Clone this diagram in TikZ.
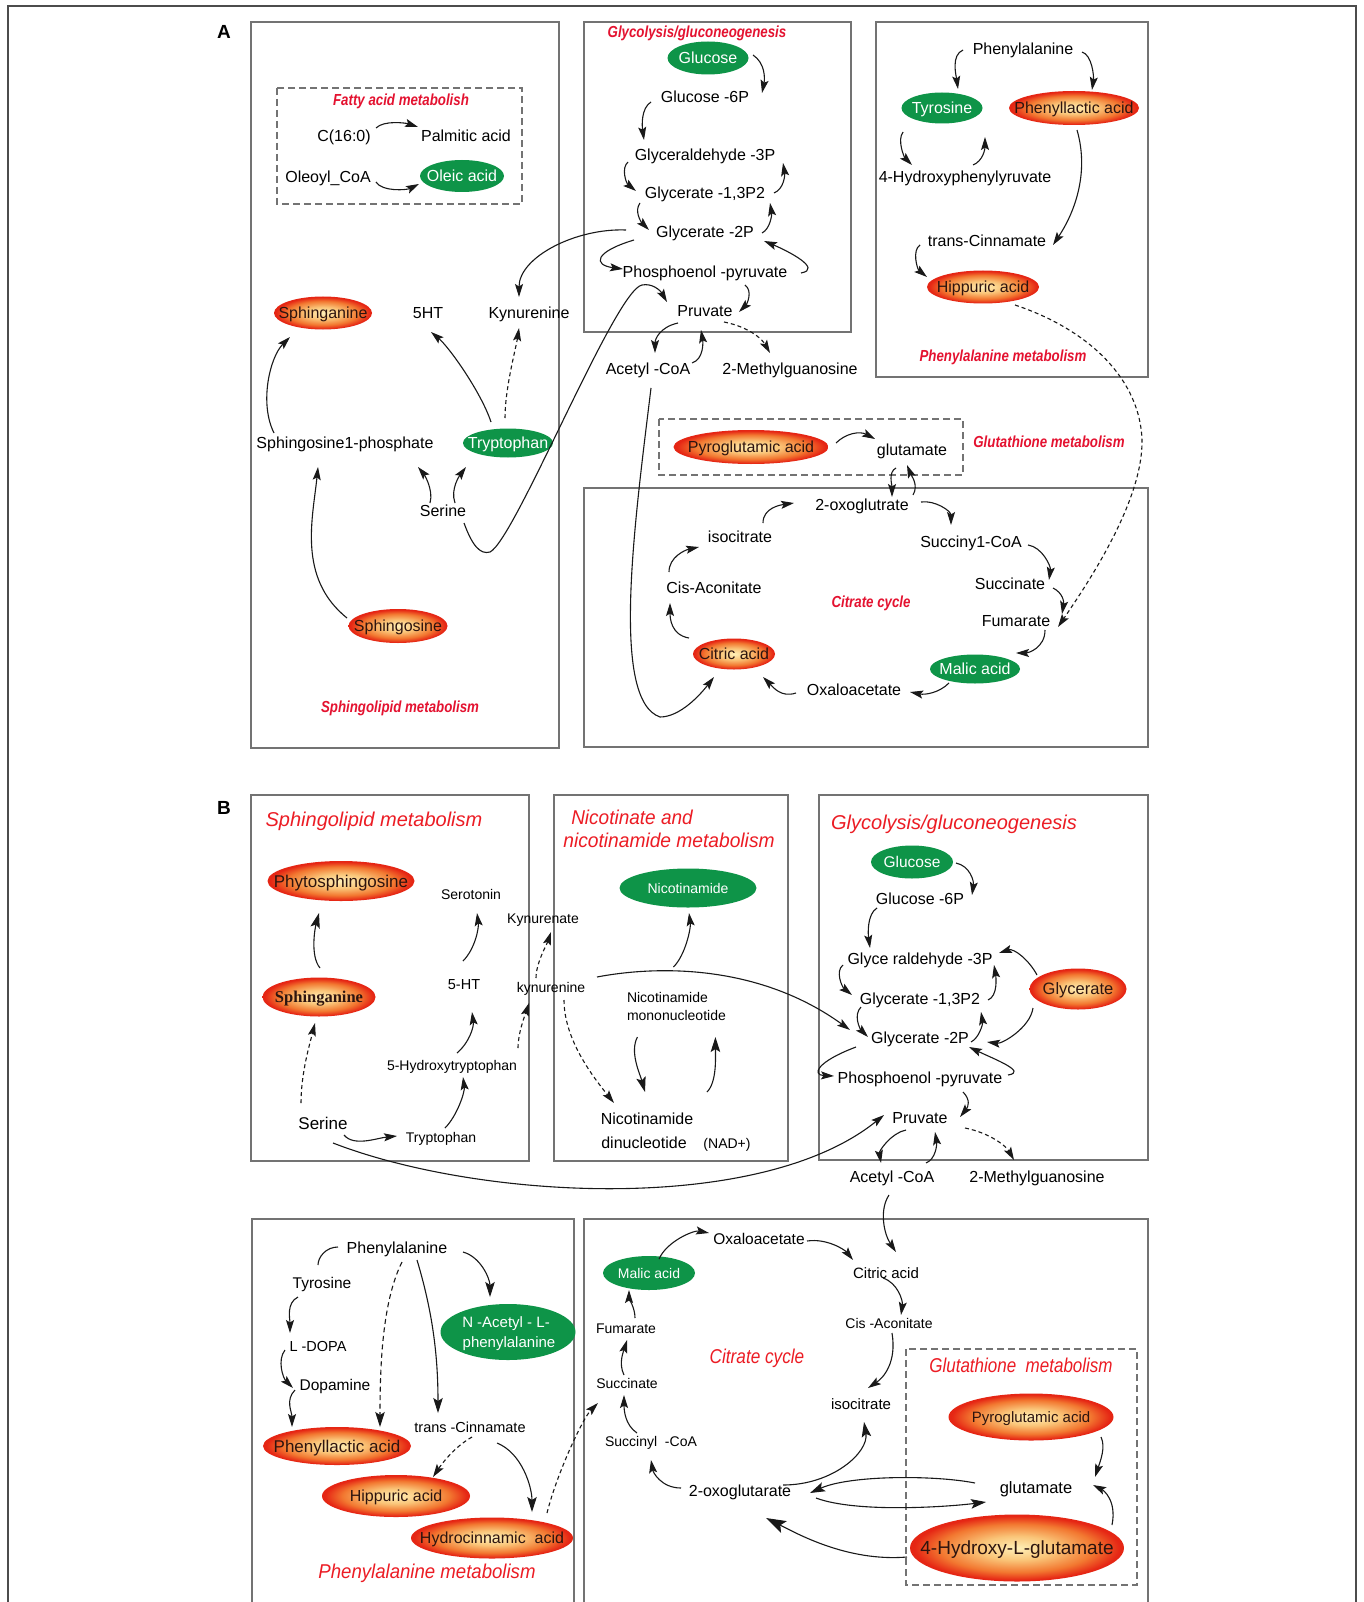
\documentclass[tikz,border=0pt]{standalone}
\usepackage{fontspec}
\setmainfont{Liberation Sans}
\newfontfamily\lserif{Liberation Serif}
\usepackage{graphicx}
\usetikzlibrary{shapes.geometric,arrows.meta,calc}
\pgfdeclareradialshading{redball}{\pgfpoint{0bp}{0bp}}{rgb(0bp)=(1,0.94,0.72);rgb(9bp)=(0.98,0.77,0.47);rgb(18bp)=(0.95,0.47,0.19);rgb(24bp)=(0.90,0.15,0.08);rgb(50bp)=(0.90,0.15,0.08)}
\definecolor{mgreen}{RGB}{14,148,72}
\definecolor{tred}{RGB}{228,18,48}
\definecolor{bred}{RGB}{236,28,36}
\definecolor{boxgray}{RGB}{115,115,115}
\definecolor{eltext}{RGB}{45,20,15}
\newcommand\sx[2]{\scalebox{#1}[1]{#2}}
\newcommand\cn[7]{\draw[#1] ($(#2)+(#3)$) .. controls +(#4) and +(#5) .. ($(#6)+(#7)$);}
\tikzset{
 every node/.style={inner sep=0pt,outer sep=0pt},
 fs/.style={font=\fontsize{#1}{#1}\selectfont,text height=0.72*#1,text depth=0pt},
 tA/.style={font=\fontsize{16}{16}\selectfont\bfseries\itshape,text=tred,text height=11.5pt,text depth=0pt},
 tB/.style={font=\fontsize{20}{20}\selectfont\itshape,text=bred,text height=14.4pt,text depth=0pt},
 box/.style={draw=boxgray,line width=1.1pt},
 dbox/.style={draw=boxgray,line width=1.1pt,dash pattern=on 7pt off 4pt},
 con/.style={line width=1.1pt,draw=black!90},
 arr/.style={con,-{Stealth[length=13pt,width=8pt,inset=2.5pt]}},
 darr/.style={arr,dash pattern=on 4pt off 3pt},
 barr/.style={con,-{Stealth[length=15pt,width=9.5pt,inset=3pt]}},
 barrd/.style={barr,dash pattern=on 5pt off 3.5pt},
 hugearr/.style={con,-{Stealth[length=20pt,width=13pt,inset=4pt]}},
 redel/.style n args={2}{ellipse,shade,shading=redball,minimum width=#1,minimum height=#2},
 grel/.style n args={2}{ellipse,fill=mgreen,minimum width=#1,minimum height=#2},
 wt/.style={text=white},
 et/.style={text=eltext},
}
\begin{document}
\begin{tikzpicture}[x=1pt,y=-1pt]
\useasboundingbox (0,0) rectangle (1363,1602);
\fill[white] (0,0) rectangle (1363,1602);
% outer frame
\draw[line width=1.4pt,draw=black!70] (8,1602) -- (8,6) -- (1356,6) -- (1356,1602);
\node[font=\fontsize{19}{19}\selectfont\bfseries] (labA) at (224,32) {A};
\node[font=\fontsize{19}{19}\selectfont\bfseries] (labB) at (224,808) {B};
% boxes A
\draw[box] (251,22) rectangle (559,748);
\draw[box] (584,22) rectangle (851,332);
\draw[box] (876,22) rectangle (1148,377);
\draw[box] (584,488) rectangle (1148,747);
\draw[dbox] (277,88) rectangle (522,204);
\draw[dbox] (659,419) rectangle (963,475);
% boxes B
\draw[box] (251,795) rectangle (529,1161);
\draw[box] (554,795) rectangle (788,1161);
\draw[box] (819,795) rectangle (1148,1160);
\draw[box] (252,1602) -- (252,1219) -- (574,1219) -- (574,1602);
\draw[box] (584,1602) -- (584,1219) -- (1148,1219) -- (1148,1602);
\draw[dbox] (906,1349) rectangle (1137,1585);

% ===== PANEL A =====
% fatty acid
\node[tA] (titFat) at (401,100) {\sx{0.83}{Fatty acid metabolish}};
\node[fs=16] (c16) at (344,136) {C(16:0)};
\node[fs=16] (pal) at (466,136) {Palmitic acid};
\node[fs=16] (ole) at (328,177) {Oleoyl\_CoA};
\node[grel={84pt}{32pt}] (oleic) at (462,176) {};
\node[fs=16,wt] (oleict) at (oleic) {Oleic acid};
% glycolysis A
\node[tA] (titGlyA) at (697,32) {\sx{0.83}{Glycolysis/gluconeogenesis}};
\node[grel={81pt}{33pt}] (glcA) at (708,58) {};
\node[fs=16,wt] (glcAt) at (glcA) {Glucose};
\node[fs=16] (g6pA) at (705,97) {Glucose -6P};
\node[fs=16] (gapA) at (705,155) {Glyceraldehyde -3P};
\node[fs=16] (bpgA) at (705,193) {Glycerate -1,3P2};
\node[fs=16] (pgA) at (705,232) {Glycerate -2P};
\node[fs=16] (pepA) at (705,272) {Phosphoenol -pyruvate};
\node[fs=16] (pyrA) at (705,311) {Pruvate};
\node[fs=16] (acoA) at (648,369) {Acetyl -CoA};
\node[fs=16] (mgA) at (790,369) {2-Methylguanosine};
% phenylalanine A
\node[fs=16] (pheA) at (1023,49) {Phenylalanine};
\node[grel={81pt}{31pt}] (tyrA) at (942,108) {};
\node[fs=16,wt] (tyrAt) at (tyrA) {Tyrosine};
\node[redel={130pt}{34pt}] (plaA) at (1074,108) {};
\node[fs=16,et] (plaAt) at (plaA) {Phenyllactic acid};
\node[fs=16] (hppA) at (965,177) {4-Hydroxyphenylyruvate};
\node[fs=16] (cinA) at (987,241) {trans-Cinnamate};
\node[redel={112pt}{33pt}] (hipA) at (983,287) {};
\node[fs=16,et] (hipAt) at (hipA) {Hippuric acid};
\node[tA] (titPheA) at (1003,356) {\sx{0.83}{Phenylalanine metabolism}};
% sphingolipid A
\node[redel={98pt}{33pt}] (sphA) at (323,313) {};
\node[fs=16,et] (sphAt) at (sphA) {Sphinganine};
\node[fs=16] (htA) at (428,313) {5HT};
\node[fs=16] (kynA) at (529,313) {Kynurenine};
\node[fs=16] (s1pA) at (345,443) {Sphingosine1-phosphate};
\node[grel={90pt}{29pt}] (trpA) at (508,443) {};
\node[fs=16,wt] (trpAt) at (trpA) {Tryptophan};
\node[fs=16] (serA) at (443,511) {Serine};
\node[redel={99pt}{34pt}] (sphoA) at (398,626) {};
\node[fs=16,et] (sphoAt) at (sphoA) {Sphingosine};
\node[tA] (titSphA) at (400,707) {\sx{0.83}{Sphingolipid metabolism}};
% glutathione / citrate A
\node[redel={155pt}{34pt}] (pyroA) at (751,447) {};
\node[fs=16,et] (pyroAt) at (pyroA) {Pyroglutamic acid};
\node[fs=16] (gluA) at (912,450) {glutamate};
\node[tA] (titGluA) at (1049,442) {\sx{0.83}{Glutathione metabolism}};
\node[fs=16] (oxoA) at (862,505) {2-oxoglutrate};
\node[fs=16] (icitA) at (740,537) {isocitrate};
\node[fs=16] (cisA) at (714,588) {Cis-Aconitate};
\node[tA] (titTcaA) at (871,602) {\sx{0.83}{Citrate cycle}};
\node[fs=16] (sucoaA) at (971,542) {Succiny1-CoA};
\node[fs=16] (succA) at (1010,584) {Succinate};
\node[fs=16] (fumA) at (1016,621) {Fumarate};
\node[grel={90pt}{29pt}] (malA) at (975,669) {};
\node[fs=16,wt] (malAt) at (malA) {Malic acid};
\node[fs=16] (oaaA) at (854,690) {Oxaloacetate};
\node[redel={82pt}{31pt}] (citA) at (734,654) {};
\node[fs=16,et] (citAt) at (citA) {Citric acid};

% ===== PANEL B =====
% sphingolipid B
\node[tB] (titSphB) at (374,819) {Sphingolipid metabolism};
\node[redel={147pt}{40pt}] (phytoB) at (341,881) {};
\node[fs=17,et] (phytoBt) at (phytoB) {Phytosphingosine};
\node[redel={113pt}{39pt}] (sphB) at (319,997) {};
\node[font=\fontsize{16.5}{16.5}\selectfont\lserif\bfseries,et,text height=11pt,text depth=0pt] (sphBt) at (sphB) {Sphinganine};
\node[fs=17] (serB) at (323,1123) {Serine};
\node[fs=14] (trpB) at (441,1137) {Tryptophan};
\node[fs=14] (hydroxyB) at (452,1065) {5-Hydroxytryptophan};
\node[fs=14.5] (htB) at (464,984) {5-HT};
\node[fs=14] (seroB) at (471,894) {Serotonin};
\node[fs=14] (kynB) at (551,987) {kynurenine};
\node[fs=14] (kynaB) at (543,918) {Kynurenate};
% nicotinate
\node[tB] (titNicB1) at (632,817) {\sx{0.95}{Nicotinate and}};
\node[tB] (titNicB2) at (669,840) {\sx{0.96}{nicotinamide metabolism}};
\node[grel={137pt}{39pt}] (nicB) at (688,888) {};
\node[fs=14,wt] (nicBt) at (nicB) {Nicotinamide};
\node[fs=14,anchor=west] (nmnB1) at (627,997) {Nicotinamide};
\node[fs=14,anchor=west] (nmnB2) at (627,1015) {mononucleotide};
\node[fs=16] (nadB1) at (647,1119) {Nicotinamide};
\node[fs=16] (nadB2) at (644,1143) {dinucleotide};
\node[fs=14] (nadp) at (727,1143) {(NAD+)};
% glycolysis B
\node[tB] (titGlyB) at (954,822) {Glycolysis/gluconeogenesis};
\node[grel={82pt}{33pt}] (glcB) at (912,862) {};
\node[fs=15.5,wt] (glcBt) at (glcB) {Glucose};
\node[fs=16] (g6pB) at (920,899) {Glucose -6P};
\node[fs=16] (gapB) at (920,959) {Glyce raldehyde -3P};
\node[fs=16] (bpgB) at (920,999) {Glycerate -1,3P2};
\node[fs=16] (pgB) at (920,1038) {Glycerate -2P};
\node[fs=16] (pepB) at (920,1078) {Phosphoenol -pyruvate};
\node[fs=16] (pyrB) at (920,1118) {Pruvate};
\node[redel={97pt}{41pt}] (glyB) at (1078,989) {};
\node[fs=16.5,et] (glyBt) at (glyB) {Glycerate};
\node[fs=16] (acoB) at (892,1177) {Acetyl -CoA};
\node[fs=16] (mgB) at (1037,1177) {2-Methylguanosine};
% phenylalanine B
\node[fs=16] (pheB) at (397,1248) {Phenylalanine};
\node[fs=15.5] (tyrB2) at (322,1283) {Tyrosine};
\node[fs=14.5] (dopaB) at (318,1346) {L -DOPA};
\node[fs=15.5] (dopB) at (335,1385) {Dopamine};
\node[redel={148pt}{38pt}] (plaB) at (337,1446) {};
\node[fs=17,et] (plaBt) at (plaB) {Phenyllactic acid};
\node[grel={135pt}{56pt}] (naB) at (508,1332) {};
\node[fs=15,wt] (naBt1) at (506,1322) {N -Acetyl - L-};
\node[fs=15,wt] (naBt2) at (509,1342) {phenylalanine};
\node[fs=14.5] (cinB) at (470,1427) {trans -Cinnamate};
\node[redel={148pt}{42pt}] (hipB) at (396,1496) {};
\node[fs=16,et] (hipBt) at (hipB) {Hippuric acid};
\node[redel={162pt}{41pt}] (hcaB) at (492,1538) {};
\node[fs=16,et] (hcaBt) at (hcaB) {Hydrocinnamic\ \ acid};
\node[tB] (titPheB) at (427,1571) {\sx{0.93}{Phenylalanine metabolism}};
% citrate B
\node[fs=15.5] (oaaB) at (759,1239) {Oxaloacetate};
\node[grel={92pt}{34pt}] (malB) at (649,1273) {};
\node[fs=14,wt] (malBt) at (malB) {Malic acid};
\node[fs=15] (citB) at (886,1273) {Citric acid};
\node[fs=14] (cisB) at (889,1323) {Cis -Aconitate};
\node[fs=15] (icitB) at (861,1404) {isocitrate};
\node[tB] (titTcaB) at (757,1356) {\sx{0.86}{Citrate cycle}};
\node[tB] (titGluB) at (1021,1365) {\sx{0.85}{Glutathione\ \ metabolism}};
\node[fs=14] (fumB) at (626,1328) {Fumarate};
\node[fs=14] (succB) at (627,1383) {Succinate};
\node[fs=14] (sucoaB) at (651,1441) {Succinyl\ \ -CoA};
\node[fs=16] (oxoB) at (740,1491) {2-oxoglutarate};
\node[redel={165pt}{47pt}] (pyroB) at (1031,1417) {};
\node[fs=15,et] (pyroBt) at (pyroB) {Pyroglutamic acid};
\node[fs=16.5] (gluB) at (1036,1488) {glutamate};
\node[redel={214pt}{67pt}] (hglB) at (1017,1548) {};
\node[fs=19,et] (hglBt) at (hglB) {4-Hydroxy-L-glutamate};

% ===== CONNECTORS A =====
\cn{arr}{c16}{32,-8}{8,-8}{-12,-4}{pal}{-48,-9}
\cn{arr}{ole}{48,5}{6,10}{-12,6}{oleic}{-43,8}
\cn{arr}{glcA}{45,-3}{12,8}{3,-15}{g6pA}{57,-4}
\cn{arr}{g6pA}{-54,5}{-10,6}{-2,-14}{gapA}{-61,-15}
\cn{arr}{gapA}{-77,7}{-7,6}{-10,-8}{bpgA}{-69,-2}
\cn{arr}{bpgA}{-65,10}{-6,8}{-8,-8}{pgA}{-56,-2}
\cn{arr}{bpgA}{69,0}{10,-4}{2,12}{gapA}{78,8}
\cn{arr}{pgA}{57,1}{8,-4}{2,12}{bpgA}{65,10}
\cn{arr}{pgA}{-71,8}{-40,12}{-30,-4}{pepA}{-82,-3}
\cn{arr}{pepA}{96,1}{22,-4}{24,10}{pgA}{59,9}
\cn{arr}{pepA}{40,13}{8,6}{8,-8}{pyrA}{34,1}
\cn{arr}{pyrA}{-27,12}{-18,4}{0,-14}{acoA}{7,-16}
\cn{arr}{acoA}{44,-6}{12,-4}{2,12}{pyrA}{-4,19}
\cn{darr}{pyrA}{19,11}{25,5}{-8,-14}{mgA}{-20,-16}
\cn{arr}{pgA}{-79,-2}{-50,-2}{0,-40}{kynA}{-10,-16}
\draw[arr] ($(serA)+(21,12)$) .. controls (472,545) and (480,555) .. (490,552) .. controls (515,540) and (615,290) .. (642,285) .. controls (652,283) and (660,290) .. ($(pyrA)+(-38,-9)$);
\draw[arr] ($(acoA)+(3,19)$) .. controls (635,520) and (610,700) .. (660,717) .. controls (680,717) and (700,695) .. ($(citA)+(-20,23)$);
\cn{arr}{pheA}{-60,1}{-12,5}{-2,-14}{tyrA}{16,-19}
\cn{arr}{pheA}{59,3}{10,3}{2,-14}{plaA}{18,-18}
\cn{arr}{tyrA}{-39,24}{-6,8}{-8,-8}{hppA}{-53,-12}
\cn{arr}{hppA}{8,-12}{10,-4}{0,12}{tyrA}{43,29}
\cn{arr}{plaA}{3,22}{13,45}{20,-30}{cinA}{66,4}
\cn{arr}{cinA}{-67,4}{-8,5}{-10,-8}{hipA}{-56,-10}
\draw[darr] ($(hipA)+(32,18)$) .. controls (1090,330) and (1140,380) .. (1142,440) .. controls (1143,500) and (1090,580) .. ($(fumA)+(42,6)$);
\cn{arr}{pyroA}{85,-4}{10,-10}{-15,-8}{gluA}{-37,-11}
\cn{arr}{gluA}{-16,18}{-8,4}{0,-12}{oxoA}{30,-8}
\cn{arr}{oxoA}{51,-10}{6,-10}{4,10}{gluA}{-5,15}
\cn{arr}{icitA}{23,-14}{0,-15}{-14,2}{oxoA}{-68,-2}
\cn{arr}{cisA}{-45,-16}{0,-15}{-14,3}{icitA}{-41,10}
\cn{arr}{citA}{-45,-16}{-18,-3}{0,15}{cisA}{-44,15}
\cn{arr}{oaaA}{-58,3}{-15,5}{10,10}{citA}{29,23}
\cn{arr}{malA}{-26,14}{-10,10}{15,3}{oaaA}{56,2}
\cn{arr}{fumA}{29,9}{0,18}{12,0}{malA}{41,-16}
\cn{arr}{succA}{43,4}{10,5}{2,-12}{fumA}{46,-7}
\cn{arr}{sucoaA}{57,3}{14,2}{2,-14}{succA}{39,-4}
\cn{arr}{oxoA}{59,-3}{14,-2}{0,-14}{sucoaA}{-20,-17}
\cn{arr}{s1pA}{-71,-10}{-15,-30}{-20,20}{sphA}{-33,24}
\cn{arr}{trpA}{-17,-21}{-10,-30}{18,15}{htA}{3,19}
\cn{darr}{trpA}{-3,-25}{0,-30}{-3,20}{kynA}{-10,15}
\cn{arr}{serA}{-13,-8}{4,-14}{5,6}{s1pA}{73,24}
\cn{arr}{serA}{12,-8}{-5,-14}{-6,8}{trpA}{-42,24}
\cn{arr}{sphoA}{-51,-8}{-50,-40}{-5,50}{s1pA}{-27,24}

% ===== CONNECTORS B =====
\cn{barr}{sphB}{1,-29}{-10,-12}{-4,15}{phytoB}{-22,32}
\cn{darr}{serB}{-22,-20}{0,-30}{-5,20}{sphB}{-4,26}
\cn{arr}{serB}{21,12}{10,12}{-20,2}{trpB}{-44,-1}
\cn{arr}{trpB}{4,-9}{12,-12}{2,15}{hydroxyB}{11,12}
\cn{arr}{hydroxyB}{5,-12}{12,-10}{2,15}{htB}{8,28}
\cn{arr}{htB}{-1,-23}{12,-12}{2,15}{seroB}{6,19}
\cn{darr}{hydroxyB}{66,-17}{0,-15}{-4,12}{kynB}{-22,16}
\cn{darr}{kynB}{-15,-9}{0,-15}{-4,12}{kynaB}{8,14}
\cn{darr}{kynB}{13,13}{0,40}{-20,-25}{nadB1}{-33,-16}
\draw[arr] ($(kynB)+(46,-10)$) .. controls (660,965) and (760,965) .. ($(pgB)+(-70,-8)$);
\cn{barr}{nmnB2}{-39,22}{-8,15}{-5,-18}{nadB1}{-2,-27}
\cn{barr}{nadB1}{60,-27}{10,-10}{0,20}{nmnB2}{39,22}
\cn{arr}{nmnB1}{6,-30}{12,-12}{2,15}{nicB}{1,25}
\cn{arr}{glcB}{44,1}{14,3}{2,-14}{g6pB}{52,-4}
\cn{arr}{g6pB}{-43,9}{-10,6}{-2,-14}{gapB}{-50,-11}
\cn{arr}{gapB}{-77,6}{-8,6}{-10,-8}{bpgB}{-68,-4}
\cn{arr}{bpgB}{-59,8}{-8,8}{-8,-8}{pgB}{-52,-1}
\cn{arr}{bpgB}{68,1}{10,-4}{2,12}{gapB}{74,6}
\cn{arr}{pgB}{51,4}{8,-4}{2,12}{bpgB}{61,13}
\cn{arr}{glyB}{-41,-14}{-8,-15}{15,-5}{gapB}{79,-6}
\cn{arr}{glyB}{-45,19}{-3,20}{15,2}{pgB}{67,4}
\cn{arr}{pgB}{-64,9}{-40,15}{-22,-1}{pepB}{-86,-2}
\cn{arr}{pepB}{88,-3}{20,-3}{25,12}{pgB}{49,9}
\cn{arr}{pepB}{43,14}{8,8}{8,-10}{pyrB}{40,-1}
\draw[arr] ($(serB)+(10,20)$) .. controls (480,1200) and (760,1215) .. ($(pyrB)+(-36,-3)$);
\cn{arr}{pyrB}{-14,12}{-15,3}{-2,-12}{acoB}{-11,-14}
\cn{arr}{acoB}{34,-14}{10,-4}{2,12}{pyrB}{15,14}
\cn{darr}{pyrB}{45,10}{25,5}{-8,-14}{mgB}{-23,-17}
\cn{arr}{acoB}{-3,18}{-10,15}{-12,-18}{citB}{10,-21}
\cn{arr}{malB}{10,-14}{8,-18}{-15,-3}{oaaB}{-50,-6}
\cn{arr}{oaaB}{48,2}{20,-3}{-8,-10}{citB}{-33,-13}
\cn{arr}{citB}{-3,5}{15,5}{2,-14}{cisB}{12,-8}
\cn{arr}{cisB}{3,10}{5,30}{15,-10}{icitB}{7,-16}
\cn{barr}{oxoB}{43,-6}{50,0}{5,30}{icitB}{3,18}
\cn{arr}{oxoB}{-59,-3}{-20,0}{2,12}{sucoaB}{0,19}
\cn{arr}{sucoaB}{-14,-8}{-12,-8}{0,15}{succB}{-3,12}
\cn{arr}{succB}{-3,-8}{-6,-12}{-3,10}{fumB}{1,12}
\cn{arr}{fumB}{9,-10}{0,-10}{0,8}{malB}{-20,17}
\cn{arr}{pyroB}{70,20}{5,10}{5,-15}{gluB}{59,-11}
\cn{arr}{hglB}{95,-23}{5,-25}{10,5}{gluB}{57,-3}
\cn{barr}{gluB}{-61,-5}{-40,-8}{40,-18}{oxoB}{70,2}
\cn{barr}{oxoB}{76,7}{40,15}{-40,5}{gluB}{-50,14}
\cn{hugearr}{hglB}{-110,9}{-60,5}{30,15}{oxoB}{26,27}
\cn{con}{pheB}{-59,-1}{-12,0}{0,-8}{tyrB2}{-4,-18}
\cn{arr}{tyrB2}{-24,14}{-12,6}{0,-14}{dopaB}{-28,-13}
\cn{arr}{dopaB}{-33,4}{-8,10}{-10,-10}{dopB}{-42,3}
\cn{arr}{dopB}{-40,5}{-10,10}{0,-15}{plaB}{-45,-19}
\cn{barrd}{pheB}{5,14}{-20,40}{0,-60}{plaB}{43,-19}
\cn{barr}{pheB}{20,12}{15,50}{0,-60}{cinB}{-32,-14}
\cn{barr}{pheB}{66,4}{18,5}{0,-18}{naB}{-18,-35}
\cn{darr}{cinB}{2,10}{-18,10}{8,-12}{hipB}{37,-19}
\cn{barr}{cinB}{27,16}{25,10}{0,-25}{hcaB}{40,-26}
\cn{darr}{hcaB}{55,-25}{10,-40}{-15,15}{succB}{-29,20}
\end{tikzpicture}
\end{document}
